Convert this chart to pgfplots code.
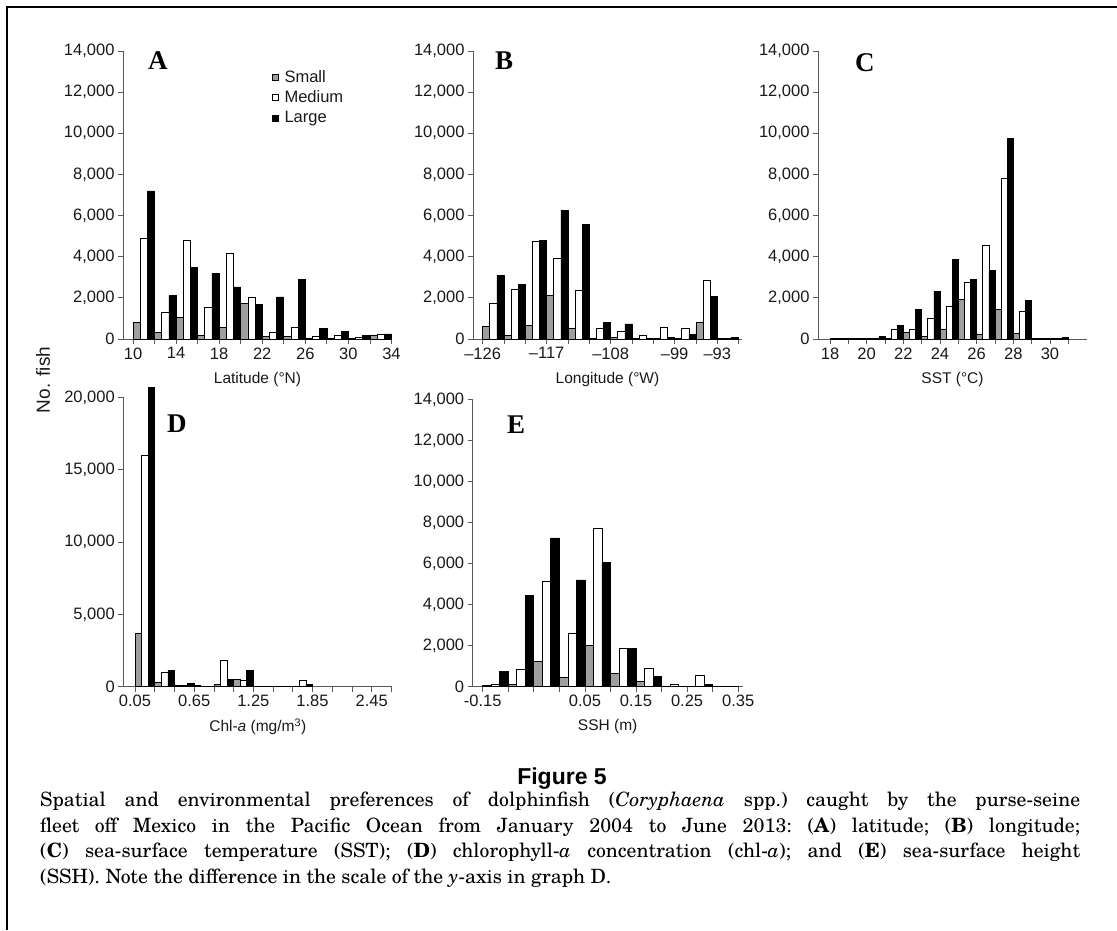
\documentclass[border=0pt]{standalone}
\usepackage{fontspec}
\setmainfont{Liberation Sans}
\newfontfamily\letterfont{Liberation Serif}
\newfontfamily\capfont{TeX Gyre Schola}
\usepackage{pgfplots}
\usepackage{pgfplotstable}
\pgfplotsset{compat=1.18}
\definecolor{smallgray}{gray}{0.62}
\definecolor{axgray}{gray}{0.35}
\definecolor{txt}{gray}{0.1}

\pgfplotstableread{
x s m l
11 790 4900 7200
13 320 1290 2125
15 1050 4780 3490
17 190 1530 3170
19 560 4140 2530
21 1720 2045 1690
23 110 300 2045
25 110 560 2880
27 50 145 515
29 30 190 370
31 20 60 190
33 200 250 250
}\tabA

\pgfplotstableread{
x s m l
-124.5 600 1710 3090
-121.5 160 2410 2650
-118.5 650 4770 4800
-115.5 2115 3900 6270
-112.5 540 2360 5585
-109.5 30 500 815
-106.5 80 360 730
-103.5 20 200 20
-100.5 30 560 80
-97.5 20 520 240
-94.5 790 2850 2090
-91.5 10 10 60
}\tabB

\pgfplotstableread{
x s m l
18.5 10 20 20
19.5 10 30 40
20.5 10 20 110
21.5 30 480 660
22.5 300 490 1450
23.5 110 1010 2300
24.5 490 1600 3860
25.5 1920 2750 2880
26.5 250 4560 3320
27.5 1420 7800 9770
28.5 290 1350 1860
29.5 10 30 20
30.5 20 50 90
}\tabC

\pgfplotstableread{
x s m l
0.15 3710 16010 20700
0.35 300 990 1100
0.55 60 80 250
0.75 60 50 40
0.95 180 1800 530
1.15 480 420 1150
1.35 20 20 20
1.55 20 30 20
1.75 30 410 180
}\tabD

\pgfplotstableread{
x s m l
-0.125 50 130 750
-0.075 130 830 4440
-0.025 1220 5140 7250
0.025 455 2620 5200
0.075 2000 7690 6065
0.125 650 1870 1870
0.175 260 910 490
0.225 40 130 20
0.275 30 550 130
0.325 10 20 30
}\tabE

\pgfplotsset{
  panel/.style={
    scale only axis,
    ybar,
    anchor=south west,
    axis x line*=bottom, axis y line*=left,
    tick align=outside,
    major tick length=5pt,
    ymin=0,
    tick style={axgray, line width=0.8pt},
    axis line style={axgray, line width=0.8pt},
    tick label style={font=\fontsize{16.5}{16.5}\selectfont, text=txt},
    yticklabel style={/pgf/number format/.cd, 1000 sep={,}, assume math mode=true},
    scaled y ticks=false,
    xlabel style={font=\fontsize{15.5}{15.5}\selectfont, text=txt, at={(axis description cs:0.5,0)}, anchor=center, inner sep=0pt, yshift=-40pt},
    clip=false,
  },
  sqleg/.style={legend image code/.code={\draw[##1, line width=0.6pt] (0pt,-3pt) rectangle (6pt,3pt);}},
  sm/.style={fill=smallgray, draw=black, line width=0.7pt, sqleg},
  md/.style={fill=white, draw=black, line width=0.7pt, sqleg},
  lg/.style={fill=black, draw=black, line width=0.7pt, sqleg},
}

\begin{document}
\begin{tikzpicture}[x=1pt,y=1pt]
\useasboundingbox (0pt,0pt) rectangle (1117pt,930pt);
\draw[line width=2pt] (7pt,0pt) -- (7pt,923pt) -- (1117pt,923pt);

% Panel A
\begin{axis}[panel, at={(123pt,591pt)}, width=269pt, height=288pt,
  xmin=9.071, xmax=34.05, ymax=14000, ytick={0,2000,...,14000},
  xtick={10,12,...,34}, xticklabels={10,{},14,{},18,{},22,{},26,{},30,{},34},
  bar width=0.6667, xlabel={Latitude (°N)},
  legend style={at={(0.553,0.94)}, anchor=north west, draw=none, fill=none,
    font=\fontsize{16.5}{16.5}\selectfont, text=txt, row sep=3pt, column sep=4pt, inner sep=0pt, cells={anchor=west}}]
\addplot[sm, bar shift=-0.6667] table[x=x,y=s]{\tabA};
\addplot[md, bar shift=0] table[x=x,y=m]{\tabA};
\addplot[lg, bar shift=0.6667] table[x=x,y=l]{\tabA};
\legend{Small,Medium,Large}
\end{axis}

% Panel B
\begin{axis}[panel, at={(473pt,591pt)}, width=269pt, height=288pt,
  xmin=-127.36, xmax=-89.53, ymax=14000, ytick={0,2000,...,14000},
  xtick={-126,-123,...,-90}, xticklabels={–126,{},{},–117,{},{},–108,{},{},–99,{},–93,{}},
  bar width=1, xlabel={Longitude (°W)}]
\addplot[sm, bar shift=-1] table[x=x,y=s]{\tabB};
\addplot[md, bar shift=0] table[x=x,y=m]{\tabB};
\addplot[lg, bar shift=1] table[x=x,y=l]{\tabB};
\end{axis}

% Panel C
\begin{axis}[panel, at={(818pt,591pt)}, width=269pt, height=288pt,
  xmin=17.345, xmax=32.02, ymax=14000, ytick={0,2000,...,14000},
  xtick={18,...,31}, xticklabels={18,{},20,{},22,{},24,{},26,{},28,{},30,{}},
  bar width=0.3333, xlabel={SST (°C)}]
\addplot[sm, bar shift=-0.3333] table[x=x,y=s]{\tabC};
\addplot[md, bar shift=0] table[x=x,y=m]{\tabC};
\addplot[lg, bar shift=0.3333] table[x=x,y=l]{\tabC};
\end{axis}

% Panel D
\begin{axis}[panel, at={(123.3pt,243.3pt)}, width=269pt, height=289.4pt,
  xmin=-0.0687, xmax=2.659, ymax=20000, ytick={0,5000,...,20000},
  xtick={0.05,0.25,0.45,0.65,0.85,1.05,1.25,1.45,1.65,1.85,2.05,2.25,2.45,2.65},
  xticklabels={0.05,{},{},0.65,{},{},1.25,{},{},1.85,{},{},2.45,{}},
  bar width=0.06667, xlabel={Chl-\textit{a} (mg/m\textsuperscript{3})}]
\addplot[sm, bar shift=-0.06667] table[x=x,y=s]{\tabD};
\addplot[md, bar shift=0] table[x=x,y=m]{\tabD};
\addplot[lg, bar shift=0.06667] table[x=x,y=l]{\tabD};
\end{axis}

% Panel E
\begin{axis}[panel, at={(472.7pt,243.3pt)}, width=270pt, height=287.4pt,
  xmin=-0.1696, xmax=0.3588, ymax=14000, ytick={0,2000,...,14000},
  xtick={-0.15,-0.10,-0.05,0,0.05,0.10,0.15,0.20,0.25,0.30,0.35},
  xticklabels={-0.15,{},{},{},0.05,{},0.15,{},0.25,{},0.35},
  bar width=0.016667, xlabel={SSH (m)}]
\addplot[sm, bar shift=-0.016667] table[x=x,y=s]{\tabE};
\addplot[md, bar shift=0] table[x=x,y=m]{\tabE};
\addplot[lg, bar shift=0.016667] table[x=x,y=l]{\tabE};
\end{axis}

% Panel letters
\begin{scope}[every node/.style={anchor=base west, inner sep=0pt, font=\letterfont\bfseries\fontsize{27}{27}\selectfont}]
\node at (148pt,860pt) {A};
\node at (495pt,860pt) {B};
\node at (855pt,858pt) {C};
\node at (167pt,497pt) {D};
\node at (507pt,496pt) {E};
\end{scope}

\node[rotate=90, font=\fontsize{19}{19}\selectfont, text=txt] at (43pt,550pt) {No. fish};

\node[font=\bfseries\fontsize{23}{23}\selectfont] at (562pt,151pt) {Figure 5};

\node[anchor=north west, inner sep=0pt, text width=1040pt, align=justify,
  font=\capfont\fontsize{19.7}{25.5}\selectfont] at (40pt,138pt)
{\frenchspacing Spatial and environmental preferences of dolphinfish (\textit{Coryphaena} spp.) caught by the purse-seine\linebreak
fleet off Mexico in the Pacific Ocean from January 2004 to June 2013: (\textbf{A}) latitude; (\textbf{B}) longitude;\linebreak
(\textbf{C}) sea-surface temperature (SST); (\textbf{D}) chlorophyll-\textit{a} concentration (chl-\textit{a}); and (\textbf{E}) sea-surface height\linebreak
(SSH). Note the difference in the scale of the \textit{y}-axis in graph D.};
\end{tikzpicture}
\end{document}
